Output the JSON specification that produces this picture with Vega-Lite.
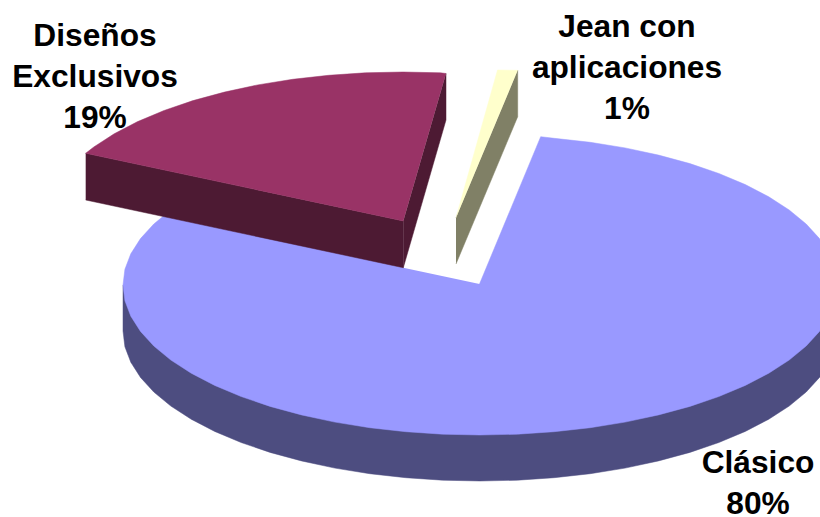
{
"$schema":"https://vega.github.io/schema/vega-lite/v6.json",
"width":820,"height":517,"padding":0,"autosize":{"type":"none"},
"background":"white",
"view":{"stroke":null},
"layer":[
{"data":{"values":[
{"part":"clasico_lado","i":0,"x":837,"y":285},{"part":"clasico_lado","i":1,"x":837,"y":331},{"part":"clasico_lado","i":2,"x":835.1,"y":346.7},{"part":"clasico_lado","i":3,"x":829.2,"y":362.2},{"part":"clasico_lado","i":4,"x":819.5,"y":377.4},{"part":"clasico_lado","i":5,"x":806.2,"y":392},{"part":"clasico_lado","i":6,"x":789.2,"y":406},{"part":"clasico_lado","i":7,"x":768.8,"y":419.2},{"part":"clasico_lado","i":8,"x":745.3,"y":431.4},{"part":"clasico_lado","i":9,"x":718.9,"y":442.5},{"part":"clasico_lado","i":10,"x":689.9,"y":452.4},{"part":"clasico_lado","i":11,"x":658.5,"y":460.9},{"part":"clasico_lado","i":12,"x":625.2,"y":468.1},{"part":"clasico_lado","i":13,"x":590.3,"y":473.7},{"part":"clasico_lado","i":14,"x":554.2,"y":477.7},{"part":"clasico_lado","i":15,"x":517.3,"y":480.2},{"part":"clasico_lado","i":16,"x":480,"y":481},{"part":"clasico_lado","i":17,"x":442.7,"y":480.2},{"part":"clasico_lado","i":18,"x":405.8,"y":477.7},{"part":"clasico_lado","i":19,"x":369.7,"y":473.7},{"part":"clasico_lado","i":20,"x":334.8,"y":468.1},{"part":"clasico_lado","i":21,"x":301.5,"y":460.9},{"part":"clasico_lado","i":22,"x":270.1,"y":452.4},{"part":"clasico_lado","i":23,"x":241.1,"y":442.5},{"part":"clasico_lado","i":24,"x":214.7,"y":431.4},{"part":"clasico_lado","i":25,"x":191.2,"y":419.2},{"part":"clasico_lado","i":26,"x":170.8,"y":406},{"part":"clasico_lado","i":27,"x":153.8,"y":392},{"part":"clasico_lado","i":28,"x":140.5,"y":377.4},{"part":"clasico_lado","i":29,"x":130.8,"y":362.2},{"part":"clasico_lado","i":30,"x":124.9,"y":346.7},{"part":"clasico_lado","i":31,"x":123,"y":331},{"part":"clasico_lado","i":32,"x":123,"y":285},

{"part":"clasico_cara","i":0,"x":479.5,"y":284},{"part":"clasico_cara","i":1,"x":540.7,"y":136.7},{"part":"clasico_cara","i":2,"x":554.2,"y":138.3},{"part":"clasico_cara","i":3,"x":590.3,"y":142.3},{"part":"clasico_cara","i":4,"x":625.2,"y":147.9},{"part":"clasico_cara","i":5,"x":658.5,"y":155.1},{"part":"clasico_cara","i":6,"x":689.9,"y":163.6},{"part":"clasico_cara","i":7,"x":718.9,"y":173.5},{"part":"clasico_cara","i":8,"x":745.3,"y":184.6},{"part":"clasico_cara","i":9,"x":768.8,"y":196.8},{"part":"clasico_cara","i":10,"x":789.2,"y":210},{"part":"clasico_cara","i":11,"x":806.2,"y":224},{"part":"clasico_cara","i":12,"x":819.5,"y":238.6},{"part":"clasico_cara","i":13,"x":829.2,"y":253.8},{"part":"clasico_cara","i":14,"x":835.1,"y":269.3},{"part":"clasico_cara","i":15,"x":837,"y":285},{"part":"clasico_cara","i":16,"x":835.1,"y":300.7},{"part":"clasico_cara","i":17,"x":829.2,"y":316.2},{"part":"clasico_cara","i":18,"x":819.5,"y":331.4},{"part":"clasico_cara","i":19,"x":806.2,"y":346},{"part":"clasico_cara","i":20,"x":789.2,"y":360},{"part":"clasico_cara","i":21,"x":768.8,"y":373.2},{"part":"clasico_cara","i":22,"x":745.3,"y":385.4},{"part":"clasico_cara","i":23,"x":718.9,"y":396.5},{"part":"clasico_cara","i":24,"x":689.9,"y":406.4},{"part":"clasico_cara","i":25,"x":658.5,"y":414.9},{"part":"clasico_cara","i":26,"x":625.2,"y":422.1},{"part":"clasico_cara","i":27,"x":590.3,"y":427.7},{"part":"clasico_cara","i":28,"x":554.2,"y":431.7},{"part":"clasico_cara","i":29,"x":517.3,"y":434.2},{"part":"clasico_cara","i":30,"x":480,"y":435},{"part":"clasico_cara","i":31,"x":442.7,"y":434.2},{"part":"clasico_cara","i":32,"x":405.8,"y":431.7},{"part":"clasico_cara","i":33,"x":369.7,"y":427.7},{"part":"clasico_cara","i":34,"x":334.8,"y":422.1},{"part":"clasico_cara","i":35,"x":301.5,"y":414.9},{"part":"clasico_cara","i":36,"x":270.1,"y":406.4},{"part":"clasico_cara","i":37,"x":241.1,"y":396.5},{"part":"clasico_cara","i":38,"x":214.7,"y":385.4},{"part":"clasico_cara","i":39,"x":191.2,"y":373.2},{"part":"clasico_cara","i":40,"x":170.8,"y":360},{"part":"clasico_cara","i":41,"x":153.8,"y":346},{"part":"clasico_cara","i":42,"x":140.5,"y":331.4},{"part":"clasico_cara","i":43,"x":130.8,"y":316.2},{"part":"clasico_cara","i":44,"x":124.9,"y":300.7},{"part":"clasico_cara","i":45,"x":123,"y":285},{"part":"clasico_cara","i":46,"x":124.9,"y":269.3},{"part":"clasico_cara","i":47,"x":130.8,"y":253.8},{"part":"clasico_cara","i":48,"x":140.5,"y":238.6},{"part":"clasico_cara","i":49,"x":153.8,"y":224},{"part":"clasico_cara","i":50,"x":170.8,"y":210},{"part":"clasico_cara","i":51,"x":403.3,"y":267.7},

{"part":"disenos_frente","i":0,"x":85.7,"y":153.3},{"part":"disenos_frente","i":1,"x":403.3,"y":221},{"part":"disenos_frente","i":2,"x":403.3,"y":267.7},{"part":"disenos_frente","i":3,"x":85.7,"y":200},
{"part":"disenos_corte","i":0,"x":403.3,"y":221},{"part":"disenos_corte","i":1,"x":446,"y":73.5},{"part":"disenos_corte","i":2,"x":446,"y":120},{"part":"disenos_corte","i":3,"x":403.3,"y":267.7},

{"part":"disenos_cara","i":0,"x":403.3,"y":221},{"part":"disenos_cara","i":1,"x":85.7,"y":153.3},{"part":"disenos_cara","i":2,"x":93.8,"y":147},{"part":"disenos_cara","i":3,"x":114.2,"y":133.8},{"part":"disenos_cara","i":4,"x":137.7,"y":121.6},{"part":"disenos_cara","i":5,"x":164.1,"y":110.5},{"part":"disenos_cara","i":6,"x":193.1,"y":100.6},{"part":"disenos_cara","i":7,"x":224.5,"y":92.1},{"part":"disenos_cara","i":8,"x":257.7,"y":84.9},{"part":"disenos_cara","i":9,"x":292.7,"y":79.3},{"part":"disenos_cara","i":10,"x":328.7,"y":75.3},{"part":"disenos_cara","i":11,"x":365.5,"y":72.8},{"part":"disenos_cara","i":12,"x":403,"y":72},{"part":"disenos_cara","i":13,"x":440.3,"y":72.8},{"part":"disenos_cara","i":14,"x":446,"y":73.5},

{"part":"jean_corte","i":0,"x":456,"y":217.7},{"part":"jean_corte","i":1,"x":517.7,"y":70.3},{"part":"jean_corte","i":2,"x":517.7,"y":116.7},{"part":"jean_corte","i":3,"x":456,"y":264},
{"part":"jean_cara","i":0,"x":456,"y":217.7},{"part":"jean_cara","i":1,"x":497.5,"y":70},{"part":"jean_cara","i":2,"x":517.7,"y":70.3}
]},
"mark":{"type":"line","strokeWidth":0.5,"strokeJoin":"round","clip":true},
"encoding":{
"x":{"field":"x","type":"quantitative","scale":{"domain":[0,820],"nice":false,"zero":false},"axis":null},
"y":{"field":"y","type":"quantitative","scale":{"domain":[517,0],"nice":false,"zero":false},"axis":null},
"order":{"field":"i","type":"quantitative"},
"fill":{"field":"part","type":"nominal","legend":null,"scale":{"domain":["clasico_lado","clasico_cara","disenos_frente","disenos_corte","disenos_cara","jean_corte","jean_cara"],"range":["#4d4d80","#9999ff","#4d1a33","#4d1a33","#993366","#808066","#ffffcc"]}},
"stroke":{"field":"part","type":"nominal","legend":null,"scale":{"domain":["clasico_lado","clasico_cara","disenos_frente","disenos_corte","disenos_cara","jean_corte","jean_cara"],"range":["#4d4d80","#9999ff","#4d1a33","#4d1a33","#993366","#808066","#ffffcc"]}}
}},
{"data":{"values":[
{"etiqueta":"Diseños\nExclusivos\n19%","x":95,"y":36},
{"etiqueta":"Jean con\naplicaciones\n1%","x":627,"y":27},
{"etiqueta":"Clásico\n80%","x":758,"y":463}
]},
"mark":{"type":"text","font":"Liberation Sans","fontWeight":"bold","fontSize":31.7,"lineHeight":41,"lineBreak":"\n","align":"center","baseline":"middle","color":"#000000"},
"encoding":{
"x":{"field":"x","type":"quantitative"},
"y":{"field":"y","type":"quantitative"},
"text":{"field":"etiqueta","type":"nominal"}
}}
]
}
